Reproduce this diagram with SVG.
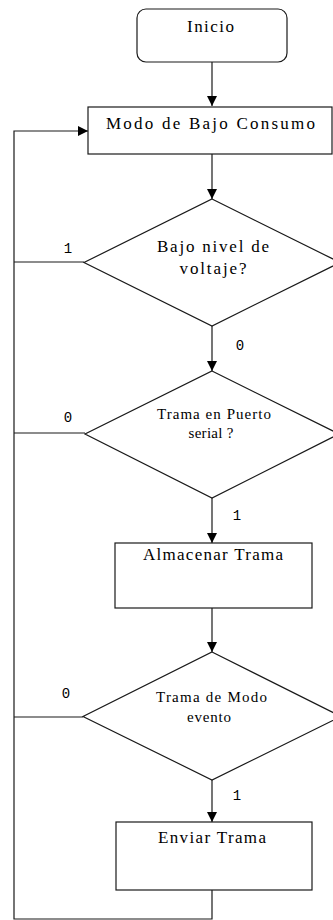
<svg xmlns="http://www.w3.org/2000/svg" width="333" height="920" viewBox="0 0 333 920">
<style>
.shape{fill:#ffffff;stroke:#1a1a1a;stroke-width:1.2}
.line{fill:none;stroke:#1a1a1a;stroke-width:1.2}
.t{font-family:"Liberation Serif","Times New Roman",serif;font-size:17px;fill:#000;text-anchor:middle}
.ts{font-family:"Liberation Serif","Times New Roman",serif;font-size:15px;fill:#000;text-anchor:middle}
.lbl{font-family:"Liberation Mono","Courier New",monospace;font-size:14px;fill:#000;text-anchor:middle}
</style>
<defs>
<marker id="arr" markerUnits="userSpaceOnUse" markerWidth="10" markerHeight="10" viewBox="0 0 10 10" refX="10" refY="5" orient="auto">
<path d="M0,0 L10,5 L0,10 z" fill="#000"/>
</marker>
</defs>
<rect width="333" height="920" fill="#ffffff"/>
<g id="connectors">
<line class="line" x1="212" y1="62" x2="212" y2="106" marker-end="url(#arr)"/>
<line class="line" x1="212" y1="154" x2="212" y2="199" marker-end="url(#arr)"/>
<line class="line" x1="212" y1="326" x2="212" y2="371" marker-end="url(#arr)"/>
<line class="line" x1="212" y1="498" x2="212" y2="543" marker-end="url(#arr)"/>
<line class="line" x1="212" y1="608" x2="212" y2="652" marker-end="url(#arr)"/>
<line class="line" x1="212" y1="780" x2="212" y2="822" marker-end="url(#arr)"/>
<polyline class="line" points="212,890 212,919 14,919 14,131 88,131" marker-end="url(#arr)"/>
<line class="line" x1="14" y1="262" x2="84" y2="262"/>
<line class="line" x1="14" y1="433" x2="85" y2="433"/>
<line class="line" x1="14" y1="717" x2="83" y2="717"/>
<text class="lbl" x="68" y="253">1</text>
<text class="lbl" x="240" y="350">0</text>
<text class="lbl" x="68" y="422">0</text>
<text class="lbl" x="237" y="520">1</text>
<text class="lbl" x="66" y="698">0</text>
<text class="lbl" x="237" y="800">1</text>
</g>
<g id="inicio">
<rect class="shape" x="137" y="9" width="150" height="53" rx="9" ry="9"/>
<text class="t" x="210.5" y="32" textLength="47" lengthAdjust="spacing">Inicio</text>
</g>
<g id="bajo-consumo">
<rect class="shape" x="88" y="107" width="244" height="47"/>
<text class="t" x="210.5" y="129" textLength="209" lengthAdjust="spacing">Modo de Bajo Consumo</text>
</g>
<g id="dec-voltaje">
<polygon class="shape" points="212,199 340,262.5 212,326 84,262.5"/>
<text class="t" x="213" y="252" textLength="112" lengthAdjust="spacing">Bajo nivel de</text>
<text class="t" x="213" y="274" textLength="67" lengthAdjust="spacing">voltaje?</text>
</g>
<g id="dec-trama">
<polygon class="shape" points="212,371 339,434 212,498 85,434"/>
<text class="ts" x="214" y="419" textLength="114" lengthAdjust="spacing">Trama en Puerto</text>
<text class="ts" x="211" y="438" textLength="45" lengthAdjust="spacing">serial ?</text>
</g>
<g id="almacenar">
<rect class="shape" x="115" y="543" width="197" height="65"/>
<text class="t" x="213" y="560" textLength="140" lengthAdjust="spacing">Almacenar Trama</text>
</g>
<g id="dec-evento">
<polygon class="shape" points="212,652 341,716.5 212,780 83,716.5"/>
<text class="ts" x="211.5" y="702" textLength="111" lengthAdjust="spacing">Trama de Modo</text>
<text class="ts" x="209" y="722" textLength="44" lengthAdjust="spacing">evento</text>
</g>
<g id="enviar">
<rect class="shape" x="116" y="822" width="196" height="68"/>
<text class="t" x="212" y="843" textLength="108" lengthAdjust="spacing">Enviar Trama</text>
</g>
</svg>
